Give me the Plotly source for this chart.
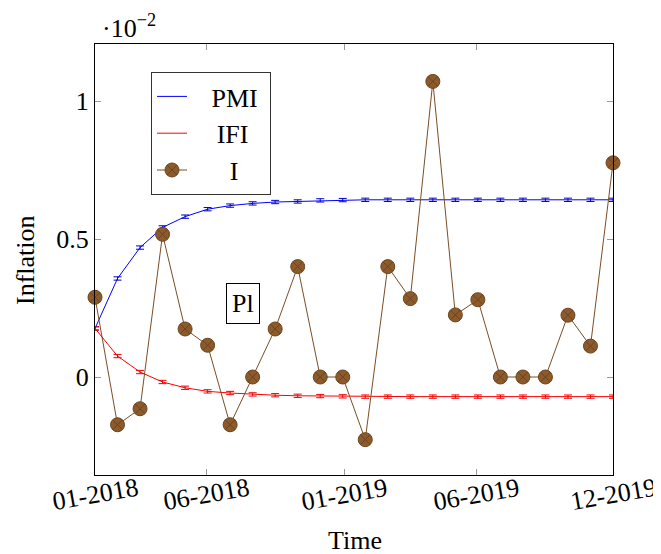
import plotly.graph_objects as go

months = list(range(24))
pmi = [0.176, 0.357, 0.469, 0.542, 0.581, 0.608, 0.621, 0.629, 0.634, 0.636, 0.640, 0.641,
       0.642, 0.642, 0.642, 0.642, 0.642, 0.642, 0.642, 0.642, 0.642, 0.642, 0.642, 0.642]
ifi = [0.176, 0.076, 0.018, -0.018, -0.039, -0.052, -0.058, -0.063, -0.066, -0.068, -0.069, -0.070,
       -0.071, -0.071, -0.071, -0.071, -0.071, -0.071, -0.071, -0.071, -0.071, -0.071, -0.071, -0.071]
infl = [0.289, -0.173, -0.115, 0.517, 0.174, 0.115, -0.173, 0.0, 0.174, 0.400, 0.0, 0.0,
        -0.227, 0.400, 0.284, 1.071, 0.225, 0.280, 0.0, 0.0, 0.0, 0.224, 0.112, 0.776]
err = 0.006
xtick_vals = [0, 4.93, 11.1, 16.96, 23]
xtick_text = ["01-2018", "06-2018", "01-2019", "06-2019", "12-2019"]
ytick_vals = [0, 0.5, 1]
ytick_text = ["0", "0.5", "1"]
series_names = ["PMI", "IFI", "I"]

FONT = "Liberation Serif, Times New Roman, serif"
FS = 26

# page body has an 8px margin; plot area targeted at x 95..613, y 44..475 on screen
W, H = 653, 546
L, R, T, B = 87, 48, 36, 79
PW, PH = W - L - R, H - T - B


def px(x):  # screen x -> paper fraction
    return (x - 8 - L) / PW


def py(y):  # screen y -> paper fraction
    return (H - B - (y - 8)) / PH


NB = "&nbsp;"
TH = "&#8201;"
legend_labels = [NB * 3 + series_names[0] + NB,
                 NB * 3 + TH + series_names[1],
                 NB * 5 + TH + series_names[2]]

fig = go.Figure()
fig.add_trace(go.Scatter(x=months, y=pmi, mode="lines", name=legend_labels[0],
                         line=dict(color="#0000ff", width=1),
                         error_y=dict(type="constant", value=err, width=4, thickness=1, color="#0000cc")))
fig.add_trace(go.Scatter(x=months, y=ifi, mode="lines", name=legend_labels[1],
                         line=dict(color="#ff0000", width=1),
                         error_y=dict(type="constant", value=err, width=4, thickness=1, color="#ee0000")))
fig.add_trace(go.Scatter(x=months, y=infl, mode="lines+markers", name=legend_labels[2],
                         line=dict(color="#7a4e26", width=1),
                         marker=dict(symbol="circle-x", size=14, color="#8c5a2b",
                                     line=dict(color="#6b4420", width=1)),
                         cliponaxis=False))

annotations = [
    dict(x=6.57, y=0.268, xref="x", yref="y", text="Pl", showarrow=False,
         bordercolor="black", borderwidth=1, borderpad=5, bgcolor="white",
         font=dict(family=FONT, size=FS)),
    dict(x=px(355), y=py(540), xref="paper", yref="paper",
         text="Time", showarrow=False, xanchor="center", yanchor="middle",
         font=dict(family=FONT, size=FS)),
    dict(x=px(25), y=py(260), xref="paper", yref="paper",
         text="Inflation", showarrow=False, textangle=-90, xanchor="center", yanchor="middle",
         font=dict(family=FONT, size=FS)),
    dict(x=px(100), y=py(26), xref="paper", yref="paper",
         text="·10<sup>−2</sup>", showarrow=False, xanchor="left", yanchor="middle",
         font=dict(family=FONT, size=FS)),
]
# rotated x tick labels, centred under each tick (as in the original)
for tv, tt in zip(xtick_vals, xtick_text):
    annotations.append(dict(x=tv, y=py(494), xref="x", yref="paper", text=tt,
                            showarrow=False, textangle=-10, xanchor="center", yanchor="middle",
                            font=dict(family=FONT, size=FS)))

fig.update_layout(
    width=W, height=H,
    margin=dict(l=L, r=R, t=T, b=B, autoexpand=False),
    plot_bgcolor="white", paper_bgcolor="white",
    font=dict(family=FONT, size=FS, color="black"),
    showlegend=True,
    legend=dict(x=px(151), y=py(72), xanchor="left", yanchor="top",
                bordercolor="#333333", borderwidth=1, bgcolor="white",
                font=dict(family=FONT, size=FS)),
    xaxis=dict(range=[0, 23], tickvals=xtick_vals, showticklabels=False,
               ticks="inside", ticklen=6, tickcolor="#999999", showline=True, linecolor="black",
               linewidth=1, mirror="allticks", showgrid=False, zeroline=False, automargin=False),
    yaxis=dict(range=[-0.355, 1.2065], tickvals=ytick_vals, ticktext=ytick_text,
               ticks="inside", ticklen=6, tickcolor="#999999", showline=True, linecolor="black",
               linewidth=1, mirror="allticks", showgrid=False, zeroline=False, automargin=False,
               tickfont=dict(family=FONT, size=FS)),
    annotations=annotations,
)

fig.write_html("out.html")
